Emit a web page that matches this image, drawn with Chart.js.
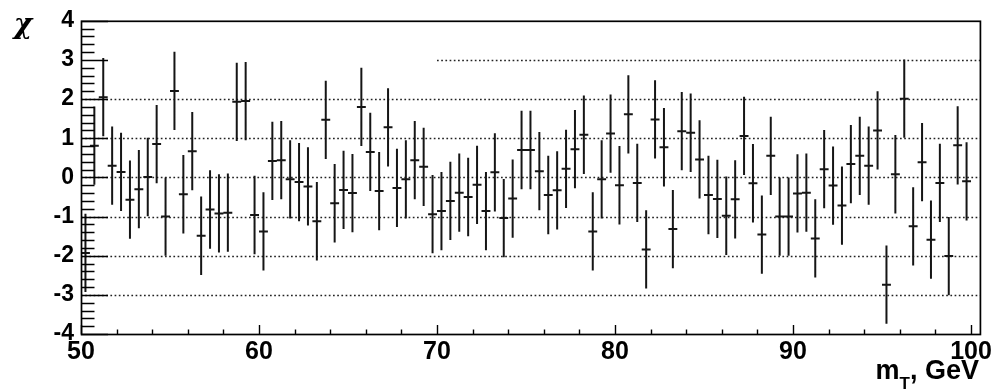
<!DOCTYPE html>
<html>
<head>
<meta charset="utf-8">
<script src="https://cdn.jsdelivr.net/npm/chart.js@4.4.1/dist/chart.umd.min.js"></script>
<style>
  html, body { margin: 0; padding: 0; background: #fff; }
  canvas { display: block; }
</style>
</head>
<body>
<canvas id="chi" width="995" height="391"></canvas>
<script>
// bin centres (m_T, GeV), 0.5 GeV bins
const mT = [
  50.25, 50.75, 51.25, 51.75, 52.25, 52.75, 53.25, 53.75, 54.25, 54.75,
  55.25, 55.75, 56.25, 56.75, 57.25, 57.75, 58.25, 58.75, 59.25, 59.75,
  60.25, 60.75, 61.25, 61.75, 62.25, 62.75, 63.25, 63.75, 64.25, 64.75,
  65.25, 65.75, 66.25, 66.75, 67.25, 67.75, 68.25, 68.75, 69.25, 69.75,
  70.25, 70.75, 71.25, 71.75, 72.25, 72.75, 73.25, 73.75, 74.25, 74.75,
  75.25, 75.75, 76.25, 76.75, 77.25, 77.75, 78.25, 78.75, 79.25, 79.75,
  80.25, 80.75, 81.25, 81.75, 82.25, 82.75, 83.25, 83.75, 84.25, 84.75,
  85.25, 85.75, 86.25, 86.75, 87.25, 87.75, 88.25, 88.75, 89.25, 89.75,
  90.25, 90.75, 91.25, 91.75, 92.25, 92.75, 93.25, 93.75, 94.25, 94.75,
  95.25, 95.75, 96.25, 96.75, 97.25, 97.75, 98.25, 98.75, 99.25, 99.75
];
// chi per bin
const chi = [
  -1.93, 0.81, 2.05, 0.30, 0.14, -0.57, -0.30, 0.01, 0.85, -1.00,
  2.21, -0.43, 0.67, -1.49, -0.82, -0.92, -0.90, 1.93, 1.95, -0.96,
  -1.38, 0.42, 0.44, -0.05, -0.12, -0.23, -1.12, 1.47, -0.66, -0.32,
  -0.40, 1.80, 0.65, -0.35, 1.28, -0.27, -0.05, 0.44, 0.27, -0.94,
  -0.86, -0.60, -0.39, -0.50, -0.19, -0.86, 0.13, -1.04, -0.54, 0.70,
  0.70, 0.16, -0.45, -0.33, 0.22, 0.72, 1.09, -1.38, -0.05, 1.12,
  -0.20, 1.61, -0.14, -1.84, 1.48, 0.77, -1.32, 1.18, 1.14, 0.46,
  -0.45, -0.55, -0.98, -0.56, 1.06, -0.15, -1.46, 0.55, -1.00, -1.00,
  -0.41, -0.39, -1.56, 0.21, -0.21, -0.72, 0.34, 0.55, 0.30, 1.20,
  -2.74, 0.08, 2.01, -1.25, 0.39, -1.59, -0.14, -2.01, 0.82, -0.10
];
const xTickValues = [50, 60, 70, 80, 90, 100];
const yTickValues = [-4, -3, -2, -1, 0, 1, 2, 3, 4];

const ERR_Y = 1;       // chi error
const HALF_BIN = 0.25; // horizontal bar
const GRID_Y = [-3, -2, -1, 0, 1, 2, 3];

const INK = '#151515';

// ROOT style frame, ticks, dotted grid and error bars
const rootStyle = {
  id: 'rootStyle',
  beforeDatasetsDraw(chart) {
    const { ctx, chartArea: a, scales: { x, y } } = chart;
    ctx.save();
    ctx.strokeStyle = '#222';
    ctx.lineWidth = 1.7;
    ctx.setLineDash([1.7, 2.5]);
    GRID_Y.forEach(v => {
      const py = Math.round(y.getPixelForValue(v)) + 0.5;
      const x0 = v === 3 ? x.getPixelForValue(70) : a.left;
      ctx.beginPath();
      ctx.moveTo(x0, py);
      ctx.lineTo(a.right, py);
      ctx.stroke();
    });
    ctx.restore();
  },
  afterDatasetsDraw(chart) {
    const { ctx, chartArea: a, scales: { x, y } } = chart;
    ctx.save();
    ctx.strokeStyle = INK;
    ctx.lineWidth = 2;
    ctx.beginPath();
    mT.forEach((m, i) => {
      const px = x.getPixelForValue(m);
      const py = y.getPixelForValue(chi[i]);
      ctx.moveTo(px, y.getPixelForValue(chi[i] + ERR_Y));
      ctx.lineTo(px, y.getPixelForValue(chi[i] - ERR_Y));
      ctx.moveTo(x.getPixelForValue(m - HALF_BIN), py);
      ctx.lineTo(x.getPixelForValue(m + HALF_BIN), py);
    });
    ctx.stroke();

    // ticks
    ctx.lineWidth = 1.4;
    ctx.strokeStyle = '#000';
    ctx.beginPath();
    for (let v = -4; v <= 4.001; v += 0.2) {
      const py = Math.round(y.getPixelForValue(v)) + 0.5;
      const major = Math.abs(v - Math.round(v)) < 0.01;
      ctx.moveTo(a.left, py);
      ctx.lineTo(a.left + (major ? 27 : 13.5), py);
    }
    for (let v = 50; v <= 100; v += 2) {
      const px = Math.round(x.getPixelForValue(v)) + 0.5;
      const major = v % 10 === 0;
      ctx.moveTo(px, a.bottom);
      ctx.lineTo(px, a.bottom - (major ? 9 : 4.5));
    }
    ctx.stroke();

    // frame
    ctx.lineWidth = 1.7;
    ctx.strokeRect(a.left + 0.5, a.top + 0.5, a.right - a.left, a.bottom - a.top);

    // axis titles
    ctx.fillStyle = '#000';
    ctx.textBaseline = 'alphabetic';
    ctx.font = 'italic bold 28px "DejaVu Serif"';
    ctx.textAlign = 'center';
    ctx.fillText('χ', 23, 33);

    const big = 'bold 27px "Liberation Sans"';
    const small = 'bold 17px "Liberation Sans"';
    ctx.font = big;
    const wM = ctx.measureText('m').width;
    const wRest = ctx.measureText(', GeV').width;
    ctx.font = small;
    const wT = ctx.measureText('T').width;
    const right = 979;
    let left = right - (wM + wT + wRest);
    ctx.textAlign = 'left';
    ctx.font = big;
    ctx.fillText('m', left, 379);
    ctx.font = small;
    ctx.fillText('T', left + wM, 389);
    ctx.font = big;
    ctx.fillText(', GeV', left + wM + wT, 379);
    ctx.restore();
  }
};

new Chart(document.getElementById('chi'), {
  type: 'scatter',
  data: {
    datasets: [{
      data: mT.map((m, i) => ({ x: m, y: chi[i] })),
      pointRadius: 0,
      showLine: false
    }]
  },
  options: {
    responsive: false,
    animation: false,
    layout: { padding: { left: 0, right: 13, top: 18, bottom: 0 } },
    plugins: { legend: { display: false }, tooltip: { enabled: false } },
    scales: {
      x: {
        type: 'linear',
        min: 50,
        max: 100.5,
        afterBuildTicks: s => { s.ticks = xTickValues.map(v => ({ value: v })); },
        afterFit: s => { s.height = 57; },
        grid: { display: false, drawTicks: false },
        border: { display: false },
        ticks: {
          color: '#000',
          padding: 3,
          maxRotation: 0,
          autoSkip: false,
          font: { family: 'Liberation Sans', size: 25, weight: 'bold' }
        }
      },
      y: {
        min: -4,
        max: 4,
        afterBuildTicks: s => { s.ticks = yTickValues.map(v => ({ value: v })); },
        afterFit: s => { s.width = 81; },
        grid: { display: false, drawTicks: false },
        border: { display: false },
        ticks: {
          color: '#000',
          padding: 7,
          autoSkip: false,
          font: { family: 'Liberation Sans', size: 23, weight: 'bold' }
        }
      }
    }
  },
  plugins: [rootStyle]
});
</script>
</body>
</html>
